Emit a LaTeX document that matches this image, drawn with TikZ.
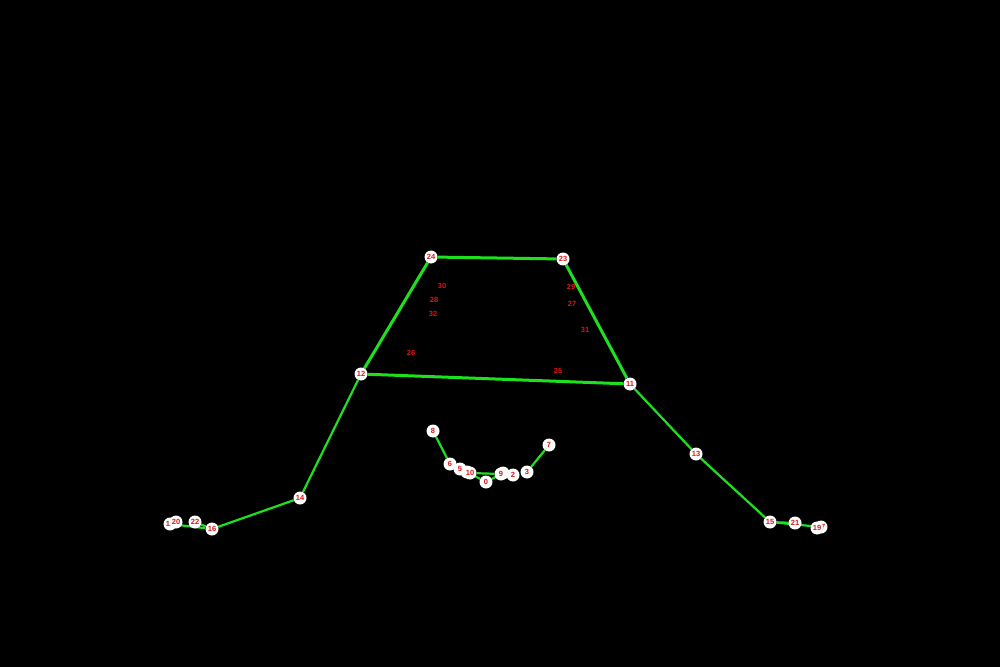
\documentclass[tikz,border=0pt]{standalone}
\usepackage{fontspec}
\setmainfont{Liberation Sans}
\usetikzlibrary{backgrounds}
\begin{document}
\begin{tikzpicture}[
            x = 1bp, y = -1bp,
            every node/.style={text depth=0pt, inner sep=0pt},
            kp/.style={circle, fill=white, minimum size=13bp, text=kpred, font=\fontsize{7.5}{8}\selectfont\bfseries},
            lo/.style={text=kpred, font=\fontsize{7.5}{8}\selectfont\bfseries},
            line/.style={draw=limb, line width = 2.2bp},
            thick line/.style={draw=limb, line width = 3bp},
            ]
        \definecolor{kpred}{RGB}{225,20,20}
        \definecolor{limb}{RGB}{30,225,30}

        \node[kp] (4) at (467, 472) {4};
        \node[kp] (1) at (503, 473) {1};
        \node[kp] (18) at (170, 524) {18};
        \node[kp] (17) at (821, 527) {17};
        \node[kp] (0) at (486, 482) {0};
        \node[kp] (2) at (513, 475) {2};
        \node[kp] (3) at (527, 472) {3};
        \node[kp] (5) at (460, 469) {5};
        \node[kp] (6) at (450, 464) {6};
        \node[kp] (7) at (549, 445) {7};
        \node[kp] (8) at (433, 431) {8};
        \node[kp] (9) at (501, 474) {9};
        \node[kp] (10) at (470, 473) {10};
        \node[kp] (11) at (630, 384) {11};
        \node[kp] (12) at (361, 374) {12};
        \node[kp] (13) at (696, 454) {13};
        \node[kp] (14) at (300, 498) {14};
        \node[kp] (15) at (770, 522) {15};
        \node[kp] (16) at (212, 529) {16};
        \node[kp] (19) at (817, 528) {19};
        \node[kp] (20) at (176, 522) {20};
        \node[kp] (21) at (795, 523) {21};
        \node[kp] (22) at (195, 522) {22};
        \node[kp] (23) at (563, 259) {23};
        \node[kp] (24) at (431, 257) {24};
        \node[lo] (25) at (558, 371) {25};
        \node[lo] (26) at (411, 353) {26};
        \node[lo] (27) at (572, 304) {27};
        \node[lo] (28) at (434, 300) {28};
        \node[lo] (29) at (571, 287) {29};
        \node[lo] (30) at (442, 286) {30};
        \node[lo] (31) at (585, 330) {31};
        \node[lo] (32) at (433, 314) {32};

        \begin{scope}[on background layer]
            \fill[black] (0, 0) rectangle (1000, 667);
            \draw[thick line] (24) -- (23) -- (11) -- (12) -- (24);
            \draw[line] (12) -- (14) -- (16) -- (18);
            \draw[line] (16) -- (22);
            \draw[line] (11) -- (13) -- (15) -- (17);
            \draw[line] (15) -- (21);
            \draw[line] (8) -- (6);
            \draw[line] (10) -- (9);
            \draw[line] (4) -- (0) -- (1);
            \draw[line] (3) -- (7);
        \end{scope}
    \end{tikzpicture}
\end{document}
